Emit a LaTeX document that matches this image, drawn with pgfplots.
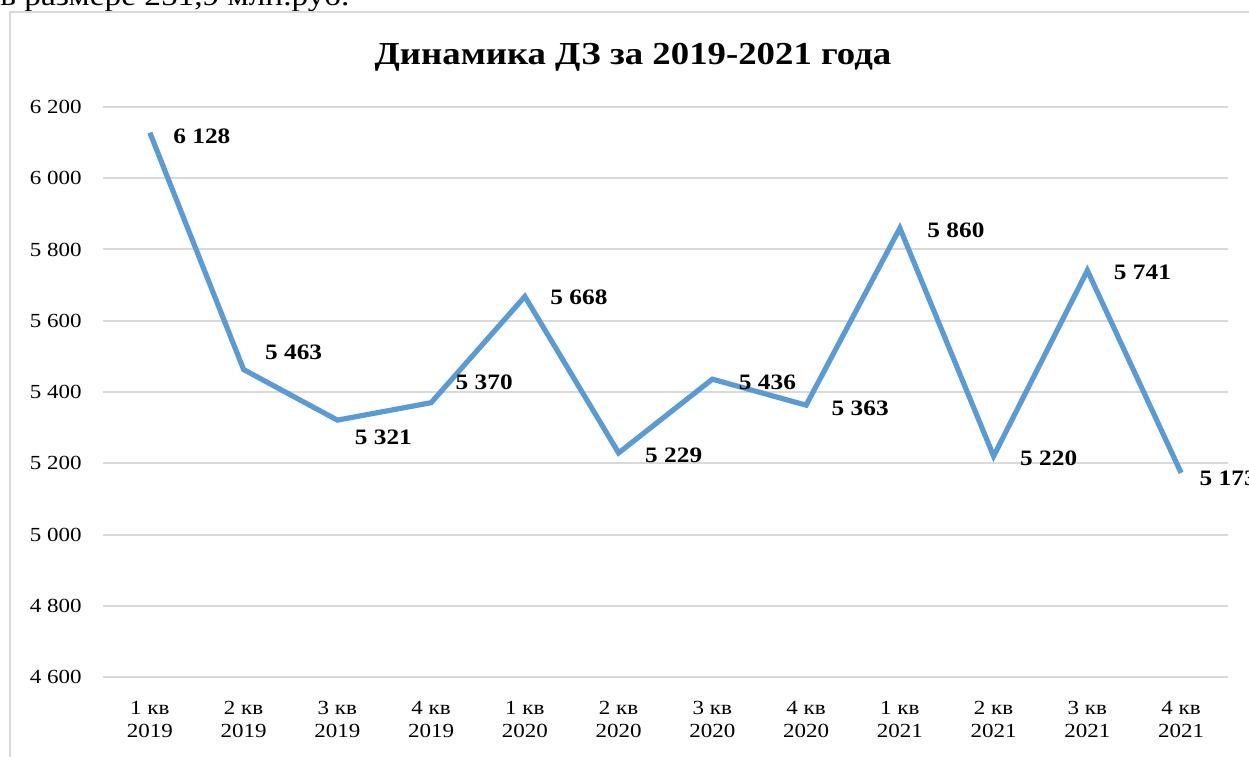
\documentclass[border=0pt]{standalone}
\usepackage{pgfplots}
\pgfplotsset{compat=1.18}
\usepackage{fontspec}
\setmainfont[FakeStretch=1.15]{Liberation Serif}
\definecolor{linecol}{HTML}{5B9BD5}
\definecolor{gridcol}{HTML}{D9D9D9}

% quarter, value, label shift (px right, px up)
\pgfplotstableread{
x y dx dy
0 6128 21 -4
1 5463 19 17
2 5321 15 -17
3 5370 22 20
4 5668 23 -1
5 5229 24 -2
6 5436 24 -3
7 5363 23 -3
8 5860 25 -2
9 5220 24 -2
10 5741 24 -2
11 5173 16 -5
}\dzdata

\begin{document}
\begin{tikzpicture}[x=0.5pt,y=0.5pt]
\clip (0,0) rectangle (1249,756);
\node[anchor=base west, inner sep=0pt, font=\fontsize{14.5}{16}\selectfont] at (0,750) {в размере 251,9 млн.руб.};
\draw[gridcol, line width=1pt] (10,-20) -- (10,744) -- (1270,744);
\node[font=\fontsize{16}{18}\selectfont\bfseries] at (633,699) {Динамика ДЗ за 2019-2021 года};
\begin{axis}[
  at={(51.5pt,39.5pt)}, anchor=south west,
  scale only axis, width=562.5pt, height=285pt,
  xmin=-0.5, xmax=11.5, ymin=4600, ymax=6200,
  ytick={4600,4800,...,6200},
  xtick={0,...,11},
  xticklabels={1 кв\\2019,2 кв\\2019,3 кв\\2019,4 кв\\2019,
               1 кв\\2020,2 кв\\2020,3 кв\\2020,4 кв\\2020,
               1 кв\\2021,2 кв\\2021,3 кв\\2021,4 кв\\2021},
  axis line style={draw=none},
  major tick length=0pt,
  ymajorgrids,
  grid style={gridcol, line width=1pt},
  /pgf/number format/assume math mode=true,
  /pgf/number format/1000 sep={\ },
  yticklabel style={font=\fontsize{10}{11.5}\selectfont, inner sep=0pt, xshift=-10.5pt},
  xticklabel style={font=\fontsize{10}{11.5}\selectfont, align=center, inner sep=0pt, yshift=-12pt},
  clip=false,
]
\addplot[linecol, line width=2.6pt,
  visualization depends on={\thisrow{dx}\as\dx},
  visualization depends on={\thisrow{dy}\as\dy},
  nodes near coords,
  nodes near coords style={font=\fontsize{11}{12}\selectfont\bfseries, text=black,
    anchor=west, inner sep=0pt, xshift=0.5*\dx pt, yshift=0.5*\dy pt},
] table[x=x, y=y] {\dzdata};
\end{axis}
\end{tikzpicture}
\end{document}
